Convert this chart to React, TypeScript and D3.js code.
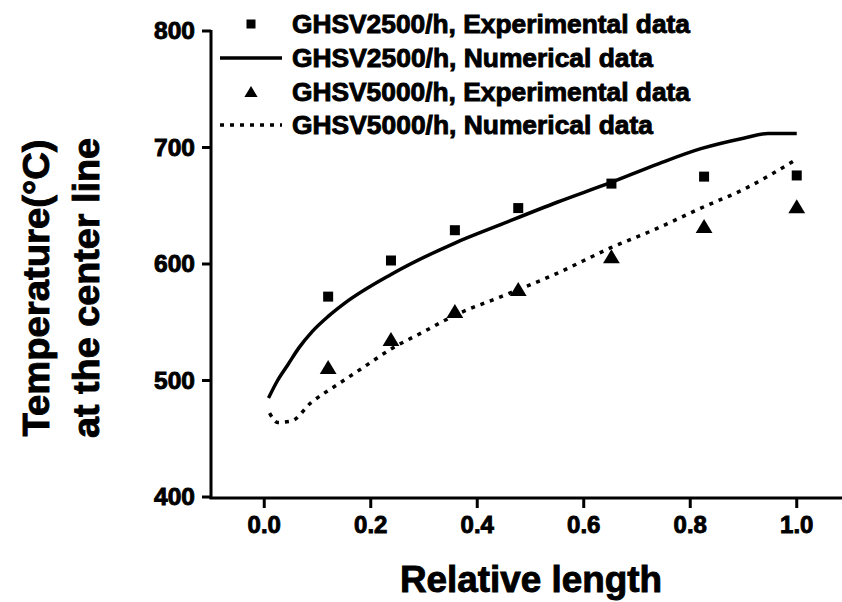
import React from "react";
import * as d3 from "d3";

const W = 842;
const H = 602;

const expX = [0.12, 0.238, 0.358, 0.477, 0.652, 0.826, 1.0];
const exp2500 = [572, 603, 629, 648, 669, 675, 676];
const exp5000 = [511, 535, 559, 578, 606, 632, 649];

const num2500X = [0.008, 0.025, 0.045, 0.065, 0.09, 0.12, 0.15, 0.238, 0.358, 0.445, 0.55, 0.651, 0.74, 0.82, 0.9, 0.946, 1.0];
const num2500Y = [485, 500, 514, 528, 542, 555, 566, 591, 618, 634, 653, 670, 686, 699, 708, 712, 712];

const num5000X = [0.01, 0.025, 0.05, 0.088, 0.139, 0.182, 0.238, 0.3, 0.358, 0.445, 0.55, 0.651, 0.74, 0.82, 0.9, 1.0];
const num5000Y = [472, 464, 465, 481, 497, 510, 527, 542, 556, 572, 592, 614, 631, 648, 664, 690];

const xTicks = [0, 0.2, 0.4, 0.6, 0.8, 1.0];
const yTicks = [400, 500, 600, 700, 800];

const legendLabels = [
  "GHSV2500/h, Experimental data",
  "GHSV2500/h, Numerical data",
  "GHSV5000/h, Experimental data",
  "GHSV5000/h, Numerical data",
];

const FONT = "'Liberation Sans', Arial, Helvetica, sans-serif";

export default function App() {
  const x = d3.scaleLinear().domain([-0.1, 1.085]).range([211, 842]);
  const y = d3.scaleLinear().domain([400, 800]).range([497, 31]);

  const line = d3
    .line<[number, number]>()
    .x((d) => x(d[0]))
    .y((d) => y(d[1]))
    .curve(d3.curveMonotoneX);

  const solid = line(num2500X.map((v, i) => [v, num2500Y[i]] as [number, number])) || "";
  const dotted = line(num5000X.map((v, i) => [v, num5000Y[i]] as [number, number])) || "";

  const sq = 10;
  const tri = (cx: number, cy: number, s: number) =>
    `M${cx},${cy - s * 0.55} L${cx + s * 0.6},${cy + s * 0.45} L${cx - s * 0.6},${cy + s * 0.45} Z`;

  const legendY = [24, 58, 92, 125];
  const legendLen = [398, 361, 398, 361];
  const heavy = { stroke: "#000", strokeWidth: 0.9 };

  return (
    <svg
      width={W}
      height={H}
      style={{ position: "absolute", left: 0, top: 0, background: "#fff" }}
      fontFamily={FONT}
    >
      <rect x={0} y={0} width={W} height={H} fill="#fff" />
      {/* axes */}
      <line x1={211} x2={211} y1={y(800) - 1} y2={y(400) + 2} stroke="#000" strokeWidth={3} />
      <line x1={209.5} x2={842} y1={498} y2={498} stroke="#000" strokeWidth={3} />
      {yTicks.map((t) => (
        <g key={"y" + t}>
          <line x1={202} x2={211} y1={y(t)} y2={y(t)} stroke="#000" strokeWidth={3} />
          <text
            x={195}
            y={y(t) + 8}
            textAnchor="end"
            fontSize={24}
            fontWeight="bold"
            textLength={41}
            lengthAdjust="spacingAndGlyphs"
            {...heavy}
          >
            {t}
          </text>
        </g>
      ))}
      {xTicks.map((t) => (
        <g key={"x" + t}>
          <line x1={x(t)} x2={x(t)} y1={498} y2={508} stroke="#000" strokeWidth={3} />
          <text x={x(t)} y={533} textAnchor="middle" fontSize={24} fontWeight="bold" {...heavy}>
            {t.toFixed(1)}
          </text>
        </g>
      ))}
      {/* axis titles */}
      <text
        x={531}
        y={592}
        textAnchor="middle"
        fontSize={36}
        fontWeight="bold"
        textLength={262}
        lengthAdjust="spacingAndGlyphs"
        {...heavy}
      >
        Relative length
      </text>
      <text
        transform="translate(49,288) rotate(-90)"
        textAnchor="middle"
        fontSize={36}
        fontWeight="bold"
        textLength={297}
        lengthAdjust="spacingAndGlyphs"
        {...heavy}
      >
        Temperature(°C)
      </text>
      <text
        transform="translate(99,288) rotate(-90)"
        textAnchor="middle"
        fontSize={36}
        fontWeight="bold"
        textLength={300}
        lengthAdjust="spacingAndGlyphs"
        {...heavy}
      >
        at the center line
      </text>

      {/* curves */}
      <path d={solid} fill="none" stroke="#000" strokeWidth={3.5} />
      <path d={dotted} fill="none" stroke="#000" strokeWidth={3.5} strokeDasharray="4 6" />

      {/* experimental markers */}
      {expX.map((v, i) => (
        <rect
          key={"s" + i}
          x={x(v) - sq / 2}
          y={y(exp2500[i]) - sq / 2}
          width={sq}
          height={sq}
          fill="#000"
        />
      ))}
      {expX.map((v, i) => (
        <path key={"t" + i} d={tri(x(v), y(exp5000[i]), 14)} fill="#000" />
      ))}

      {/* legend */}
      <rect x={251 - 4.5} y={legendY[0] - 4.5} width={9} height={9} fill="#000" />
      <line x1={220} x2={282} y1={legendY[1]} y2={legendY[1]} stroke="#000" strokeWidth={3.5} />
      <path d={tri(251, legendY[2], 11)} fill="#000" />
      <line
        x1={220}
        x2={282}
        y1={legendY[3]}
        y2={legendY[3]}
        stroke="#000"
        strokeWidth={3.5}
        strokeDasharray="4 6"
      />
      {legendLabels.map((l, i) => (
        <text
          key={l}
          x={292}
          y={legendY[i] + 9}
          fontSize={26}
          fontWeight="bold"
          textLength={legendLen[i]}
          lengthAdjust="spacingAndGlyphs"
          {...heavy}
        >
          {l}
        </text>
      ))}
    </svg>
  );
}
